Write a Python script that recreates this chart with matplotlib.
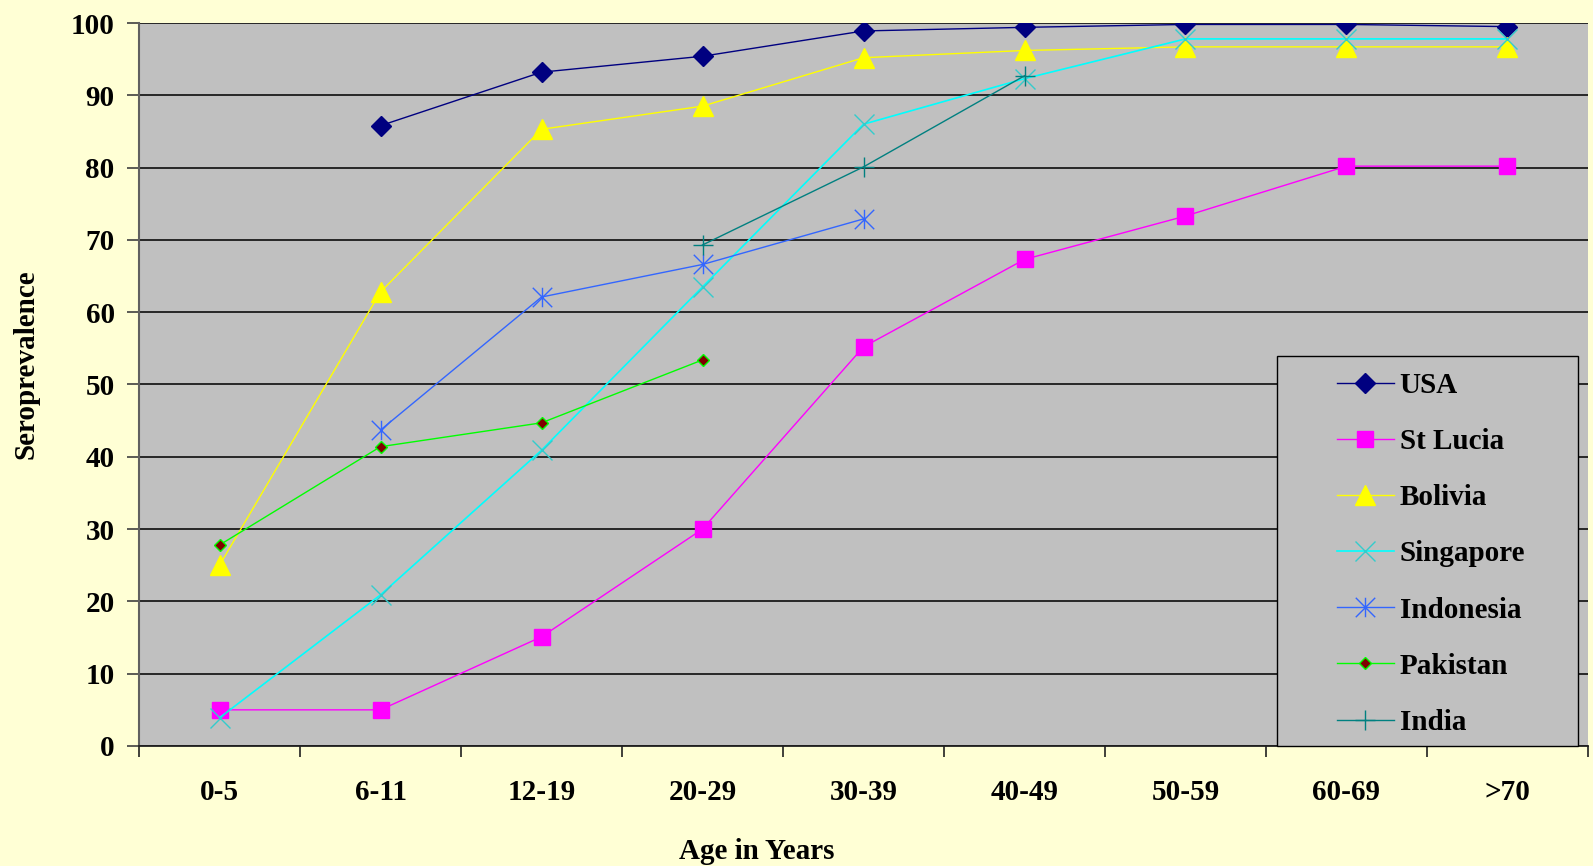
import matplotlib
matplotlib.use("Agg")
import matplotlib.pyplot as plt
from matplotlib.path import Path
from matplotlib.patches import Rectangle
from matplotlib.ticker import FixedLocator, NullFormatter
import numpy as np

# Seroprevalence (%) by age group
age_groups = ["0-5", "6-11", "12-19", "20-29", "30-39", "40-49", "50-59", "60-69", ">70"]
usa       = [np.nan, 85.8, 93.2, 95.4, 98.9, 99.4, 99.8, 99.8, 99.5]
st_lucia  = [5.0, 5.0, 15.1, 30.0, 55.2, 67.3, 73.3, 80.2, 80.2]
bolivia   = [25.0, 62.8, 85.3, 88.5, 95.2, 96.2, 96.7, 96.7, 96.7]
singapore = [3.9, 20.9, 40.9, 63.5, 86.0, 92.3, 97.8, 97.8, 97.8]
indonesia = [np.nan, 43.7, 62.1, 66.6, 72.9, np.nan, np.nan, np.nan, np.nan]
pakistan  = [27.8, 41.4, 44.7, 53.4, np.nan, np.nan, np.nan, np.nan, np.nan]
india     = [np.nan, np.nan, np.nan, 69.3, 80.1, 92.7, np.nan, np.nan, np.nan]

plt.rcParams["font.family"] = ["Liberation Serif", "DejaVu Serif"]
plt.rcParams["font.weight"] = "bold"

BG = "#FFFFD5"
PLOT_BG = "#C0C0C0"

fig = plt.figure(figsize=(15.93, 8.66), dpi=100, facecolor=BG)
ax = fig.add_axes([0.08726, 0.13857, 0.9096, 0.83487], facecolor=PLOT_BG)

x = np.arange(len(age_groups))

# six-armed star: vertical bar plus diagonal cross
star = Path([(0, -1), (0, 1), (-1, -1), (1, 1), (-1, 1), (1, -1)],
            [Path.MOVETO, Path.LINETO] * 3)

series = [
    ("USA", usa, dict(color="#000080", marker="D", ms=10.5, mfc="#000080", mec="#000080", lw=1.0)),
    ("St Lucia", st_lucia, dict(color="#FF00FF", marker="s", ms=11, mfc="#FF00FF", mec="#FF00FF", lw=1.0)),
    ("Bolivia", bolivia, dict(color="#FFFF00", marker="^", ms=14, mfc="#FFFF00", mec="#FFFF00", lw=1.0)),
    ("Singapore", singapore, dict(color="#00FFFF", marker="x", ms=14, mec="#33CCCC", mew=1.0, lw=1.2)),
    ("Indonesia", indonesia, dict(color="#3366FF", marker=star, ms=14, mec="#3366FF", mfc="none", mew=1.0, lw=1.0)),
    ("Pakistan", pakistan, dict(color="#00FF00", marker="D", ms=6.5, mfc="#800000", mec="#00FF00", mew=1.0, lw=1.0)),
    ("India", india, dict(color="#008080", marker="+", ms=14, mec="#008080", mew=1.0, lw=1.0)),
]

for i, (name, vals, style) in enumerate(series):
    vals = np.asarray(vals, dtype=float)
    ok = ~np.isnan(vals)
    ax.plot(x[ok], vals[ok], label=name, zorder=3 + i, **style)

ax.set_xlim(-0.5, len(age_groups) - 0.5)
ax.set_ylim(0, 100)

# y axis
ax.set_yticks(np.arange(0, 101, 10))
ax.tick_params(axis="y", direction="out", length=8.5, width=1.2, color="#404040",
               pad=9, labelsize=21)
ax.yaxis.grid(True, color="#1a1a1a", lw=1.3)
ax.set_axisbelow(True)

# x axis: labels at category centres, tick marks at category boundaries
ax.set_xticks(x)
ax.set_xticklabels(age_groups)
ax.xaxis.set_minor_locator(FixedLocator(np.arange(-0.5, len(age_groups), 1.0)))
ax.xaxis.set_minor_formatter(NullFormatter())
ax.tick_params(axis="x", which="major", length=0, pad=24, labelsize=21)
ax.tick_params(axis="x", which="minor", direction="out", length=8, width=1.2, color="#202020")

for lbl in ax.get_xticklabels() + ax.get_yticklabels():
    lbl.set_fontweight("bold")

for side in ("top", "right"):
    ax.spines[side].set_visible(False)
ax.spines["left"].set_color("#606060")
ax.spines["left"].set_linewidth(1.5)
ax.spines["bottom"].set_color("#202020")
ax.spines["bottom"].set_linewidth(1.3)

ax.set_ylabel("Seroprevalence", fontsize=21, fontweight="bold")
ax.yaxis.set_label_coords(-0.069, 0.528)
ax.set_xlabel("Age in Years", fontsize=21, fontweight="bold")
ax.xaxis.set_label_coords(0.426, -0.127)

# legend box
ax.add_patch(Rectangle((0.7854, 0.0), 0.2077, 0.5394, transform=ax.transAxes,
                       facecolor=PLOT_BG, edgecolor="black", lw=1.0, zorder=19,
                       clip_on=False))
leg = ax.legend(loc="upper left", bbox_to_anchor=(0.8268, 0.5175),
                prop={"family": "Liberation Serif", "weight": "bold", "size": 21},
                frameon=False, handlelength=1.95, handletextpad=0.2,
                borderpad=0.0, labelspacing=1.0, borderaxespad=0.0)
leg.set_zorder(20)

fig.savefig("out.png", dpi=100, facecolor=BG)
